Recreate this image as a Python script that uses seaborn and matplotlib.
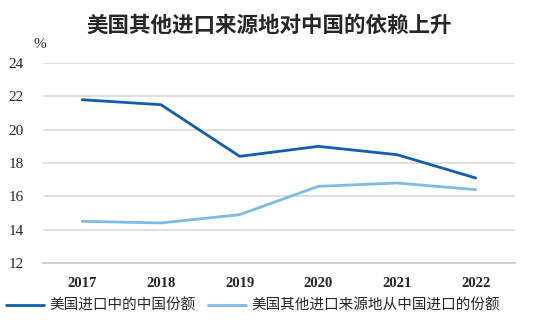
import matplotlib
matplotlib.use("Agg")
import matplotlib.pyplot as plt
import seaborn as sns
import pandas as pd
from matplotlib.lines import Line2D

years = ["2017", "2018", "2019", "2020", "2021", "2022"]
china_share = [21.8, 21.5, 18.4, 19.0, 18.5, 17.1]
others_share = [14.5, 14.4, 14.9, 16.6, 16.8, 16.4]
series_names = ["美国进口中的中国份额", "美国其他进口来源地从中国进口的份额"]
y_ticks = [12, 14, 16, 18, 20, 22, 24]

sns.set_theme(style="white")
plt.rcParams['font.family'] = ['Liberation Serif', 'Noto Sans CJK SC', 'DejaVu Sans']

df = pd.DataFrame({
    "year": list(range(len(years))) * 2,
    "value": china_share + others_share,
    "series": [series_names[0]] * len(years) + [series_names[1]] * len(years),
})

fig = plt.figure(figsize=(5.34, 3.32), dpi=100)
ax = fig.add_axes([0.0805, 0.208, 0.884, 0.602])
colors = {series_names[0]: "#0F5FAE", series_names[1]: "#7DBBE6"}
sns.lineplot(data=df, x="year", y="value", hue="series", palette=colors,
             linewidth=2, ax=ax, legend=False)

ax.set_xlim(-0.5, len(years) - 0.5)
ax.set_ylim(12, 24)
ax.set_yticks(y_ticks)
ax.set_yticklabels([str(t) for t in y_ticks], fontsize=11)
ax.set_xticks(range(len(years)))
ax.set_xticklabels(years, fontsize=10.5, fontweight="bold")
ax.set_xticks([i - 0.5 for i in range(len(years) + 1)], minor=True)
ax.tick_params(axis="x", which="major", length=0, pad=10)
ax.tick_params(axis="x", which="minor", length=4, color="#C8C8C8", width=1)
ax.tick_params(axis="y", length=0, pad=14)
ax.grid(axis="y", color="#D9D9D9", linewidth=1.2)
ax.set_axisbelow(True)
for s in ["top", "right", "left"]:
    ax.spines[s].set_visible(False)
ax.spines["bottom"].set_color("#C8C8C8")
ax.set_xlabel("")
ax.set_ylabel("")

fig.text(0.505, 0.925, "美国其他进口来源地对中国的依赖上升", ha="center", va="center",
         fontsize=15.5, fontweight="bold", family=['Noto Sans CJK SC'])
fig.text(0.075, 0.865, "%", ha="center", va="center", fontsize=11)

handles = [Line2D([0], [0], color=colors[n], lw=2) for n in series_names]
fig.legend(handles, series_names, loc="center", bbox_to_anchor=(0.474, 0.078),
           ncol=2, frameon=False, handlelength=2.6,
           columnspacing=0.8, handletextpad=0.4,
           prop={'family': ['Noto Sans CJK SC'], 'size': 10.5})

fig.savefig("out.png", dpi=100)
